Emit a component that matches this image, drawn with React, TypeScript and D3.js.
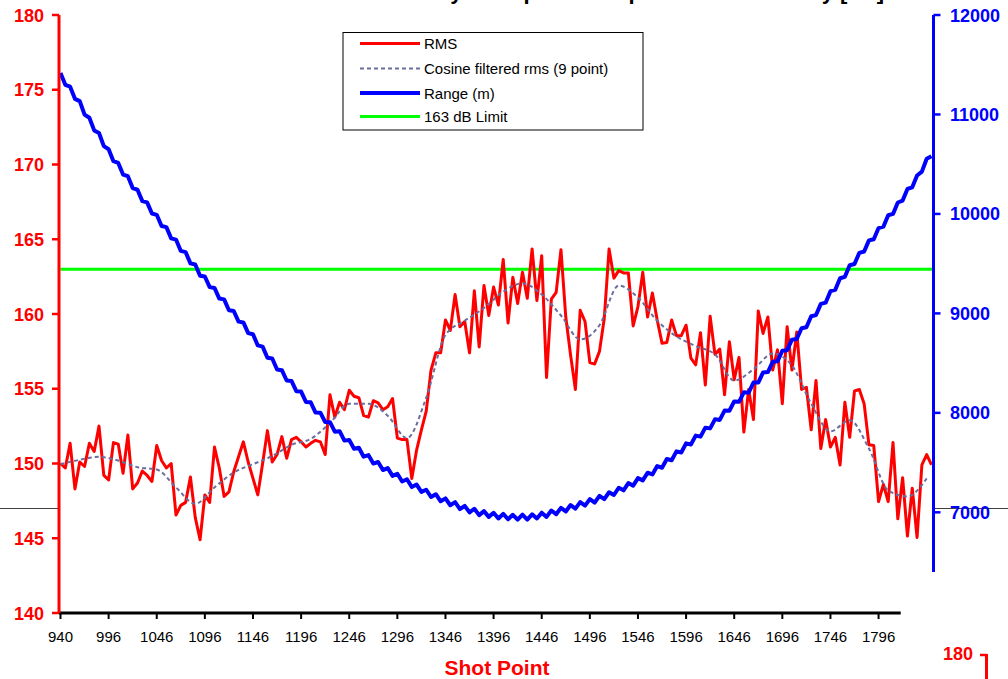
import React from "react";
import * as d3 from "d3";

// ---------- DATA ----------
const X_LABELS = ["940","996","1046","1096","1146","1196","1246","1296","1346","1396","1446","1496","1546","1596","1646","1696","1746","1796"];
const LEFT_TICKS = [140,145,150,155,160,165,170,175,180];
const RIGHT_TICKS = [7000,8000,9000,10000,11000,12000];
const LIMIT = 163;

// RMS level (dB), one value every 5 shot points
const RMS = [
150.0,149.7,151.35,148.3,150.1,149.8,151.35,150.8,152.5,149.2,
148.9,151.4,151.3,149.35,151.9,148.3,148.7,149.5,149.2,148.8,
151.2,150.2,149.7,150.0,146.55,147.2,147.4,149.1,146.4,144.9,
147.9,147.4,151.1,149.7,147.8,148.1,149.45,150.45,151.45,150.1,
149.0,147.9,150.0,152.2,150.1,150.6,151.8,150.35,151.6,151.75,
151.45,151.1,151.35,151.55,151.45,150.6,154.6,153.1,154.1,153.6,
154.9,154.5,154.4,153.2,153.1,154.2,154.05,153.6,153.8,154.35,
151.7,151.6,151.6,149.0,150.9,152.25,153.5,156.25,157.4,157.4,
159.6,158.9,161.3,159.15,159.5,157.4,161.55,157.8,161.9,159.9,
161.8,160.6,163.65,159.4,162.45,160.7,162.8,161.05,164.35,160.9,
163.9,155.75,161.0,161.45,164.3,159.8,157.25,154.95,160.25,159.5,
156.75,156.65,157.5,159.7,164.35,162.4,162.9,162.75,162.75,159.2,
160.5,162.8,159.8,161.4,159.6,158.05,158.1,159.6,158.55,158.55,
159.25,157.05,156.6,158.75,155.25,159.85,157.3,157.65,154.6,158.15,
155.6,157.1,152.1,154.95,152.95,160.2,158.7,159.8,156.25,157.6,
154.0,159.15,156.25,158.8,154.95,155.1,152.25,155.55,151.0,152.95,
151.1,151.75,149.9,154.1,151.75,154.85,154.95,154.0,151.25,151.2,
147.45,148.6,147.45,151.4,146.3,149.05,145.15,148.35,145.05,149.9,
150.6,149.9
];

// Cosine filtered rms (9 point), read every 20 shot points
const FILTERED = [
149.95,150.25,150.45,150.2,149.75,149.6,148.4,147.3,148.4,149.4,
149.95,150.5,151.25,151.65,152.7,154.0,154.0,153.2,151.7,154.4,
158.6,159.55,160.4,161.5,162.05,161.3,159.9,158.3,159.25,161.9,
161.1,159.55,158.5,157.85,157.3,155.55,156.3,157.35,156.55,154.0,
152.15,152.9,151.0,148.2,147.8,149.0
];

// Range (m), one value every 5 shot points
const RANGE = [
11418,11298,11279,11157,11134,10999,10967,10840,10813,10682,
10650,10530,10513,10396,10379,10260,10243,10129,10116,10004,
9991,9879,9867,9754,9742,9628,9616,9503,9491,9379,
9371,9264,9256,9149,9141,9032,9024,8917,8909,8802,
8791,8678,8666,8554,8546,8436,8429,8325,8321,8218,
8214,8110,8106,8003,8002,7908,7906,7811,7816,7721,
7728,7639,7649,7559,7575,7490,7506,7425,7445,7366,
7388,7310,7332,7254,7279,7205,7227,7154,7182,7111,
7140,7071,7102,7033,7064,7000,7036,6972,7012,6954,
6995,6938,6984,6930,6975,6926,6976,6927,6980,6938,
6996,6954,7018,6981,7045,7009,7073,7037,7102,7067,
7133,7098,7165,7133,7202,7174,7247,7221,7294,7268,
7344,7321,7398,7381,7465,7448,7536,7524,7613,7602,
7693,7682,7771,7761,7851,7844,7935,7929,8023,8021,
8115,8111,8206,8202,8304,8305,8406,8410,8513,8518,
8624,8630,8736,8742,8851,8861,8971,8983,9096,9108,
9223,9238,9353,9368,9484,9496,9609,9622,9734,9746,
9858,9872,9987,10000,10115,10134,10251,10268,10386,10425,
10554,10580
];

const LEGEND = ["RMS","Cosine filtered rms (9 point)","Range (m)","163 dB Limit"];
const TITLE = "RMS Source Level by Shot point: Output Sound Intensity [dB]";
const X_TITLE = "Shot Point";

// ---------- CHART ----------
const FONT = "'Liberation Sans', Arial, sans-serif";
const RED = "#ff0000";
const BLUE = "#0000ff";
const GREEN = "#00ff00";
const DASH = "#6a6e9e";

export default function App() {
  const W = 1008, H = 679;
  const RMS_STEP = 5;
  const FILT_STEP = 20;
  const x = d3.scaleLinear().domain([0, (RMS.length - 1) * RMS_STEP]).range([60.5, 931.5]);
  const yL = d3.scaleLinear().domain([140, 180]).range([613, 15]);
  const yR = d3.scaleLinear().domain([6400, 12000]).range([572, 15]);

  const rmsLine = d3.line<number>().x((_, i) => x(i * RMS_STEP)).y((d) => yL(d));
  const filtLine = d3.line<number>().x((_, i) => x(i * FILT_STEP)).y((d) => yL(d)).curve(d3.curveMonotoneX);
  const rangeLine = d3.line<number>().x((_, i) => x(i * RMS_STEP)).y((d) => yR(d));

  const leftX = 59;
  const rightX = 933.5;
  const xAxisEnd = x(873);
  const legendY = [43.5, 68.5, 93, 116.5];

  return (
    <svg width={W} height={H} style={{ position: "absolute", left: 0, top: 0, background: "#fff" }} fontFamily={FONT}>
      <rect x={0} y={0} width={W} height={H} fill="#fff" />
      {/* title (cut off at top, as in the reference) */}
      <text x={884} y={-1} textAnchor="end" fontSize={22} fontWeight="bold" fill="#000">{TITLE}</text>

      {/* stray gray line from neighbouring object */}
      <line x1={0} x2={leftX - 1} y1={508.5} y2={508.5} stroke="#404040" strokeWidth={1} />
      <line x1={rightX + 1} x2={W} y1={508.5} y2={508.5} stroke="#404040" strokeWidth={1} />

      {/* limit */}
      <line x1={x(0)} x2={rightX} y1={yL(LIMIT)} y2={yL(LIMIT)} stroke={GREEN} strokeWidth={3} />

      {/* RMS */}
      <path d={rmsLine(RMS) || ""} fill="none" stroke={RED} strokeWidth={3} strokeLinejoin="round" />
      {/* filtered */}
      <path d={filtLine(FILTERED) || ""} fill="none" stroke={DASH} strokeWidth={2} strokeDasharray="4,3" />
      {/* range */}
      <path d={rangeLine(RANGE) || ""} fill="none" stroke={BLUE} strokeWidth={4} strokeLinejoin="round" />

      {/* x axis */}
      <line x1={leftX} x2={xAxisEnd} y1={613} y2={613} stroke="#000" strokeWidth={3} />
      {X_LABELS.map((lab, k) => (
        <g key={lab}>
          <line x1={x(k * 50)} x2={x(k * 50)} y1={613} y2={619} stroke="#000" strokeWidth={2} />
          <text x={x(k * 50)} y={641.5} textAnchor="middle" fontSize={15} fill="#000">{lab}</text>
        </g>
      ))}
      <text x={497} y={675} textAnchor="middle" fontSize={21} fontWeight="bold" fill={RED}>{X_TITLE}</text>

      {/* left axis */}
      <line x1={leftX} x2={leftX} y1={15} y2={613} stroke={RED} strokeWidth={3} />
      {LEFT_TICKS.map((t) => (
        <g key={t}>
          <line x1={leftX - 7} x2={leftX} y1={yL(t)} y2={yL(t)} stroke={RED} strokeWidth={2.5} />
          <text x={44} y={yL(t) + 6.5} textAnchor="end" fontSize={18} fontWeight="bold" fill={RED}>{t}</text>
        </g>
      ))}

      {/* right axis */}
      <line x1={rightX} x2={rightX} y1={15} y2={572} stroke={BLUE} strokeWidth={3} />
      {RIGHT_TICKS.map((t) => (
        <g key={t}>
          <line x1={rightX} x2={rightX + 7} y1={yR(t)} y2={yR(t)} stroke={BLUE} strokeWidth={2.5} />
          <text x={950} y={yR(t) + 6.5} textAnchor="start" fontSize={18} fontWeight="bold" fill={BLUE}>{t}</text>
        </g>
      ))}

      {/* legend */}
      <rect x={343} y={32.5} width={300} height={97.5} fill="#fff" stroke="#000" strokeWidth={1} />
      {LEGEND.map((name, i) => {
        const cy = legendY[i];
        const stroke = i === 0 ? RED : i === 1 ? DASH : i === 2 ? BLUE : GREEN;
        const sw = i === 1 ? 2 : i === 2 ? 4 : 3;
        return (
          <g key={name}>
            <line x1={360} x2={420} y1={cy} y2={cy} stroke={stroke} strokeWidth={sw} strokeDasharray={i === 1 ? "4,3" : undefined} />
            <text x={424} y={cy + 5.5} fontSize={15} fill="#000">{name}</text>
          </g>
        );
      })}

      {/* fragment of neighbouring chart at bottom right */}
      <text x={943} y={660} fontSize={18} fontWeight="bold" fill={RED}>180</text>
      <line x1={980} x2={987} y1={655} y2={655} stroke={RED} strokeWidth={2.5} />
      <line x1={986.5} x2={986.5} y1={654} y2={679} stroke={RED} strokeWidth={3} />
    </svg>
  );
}
